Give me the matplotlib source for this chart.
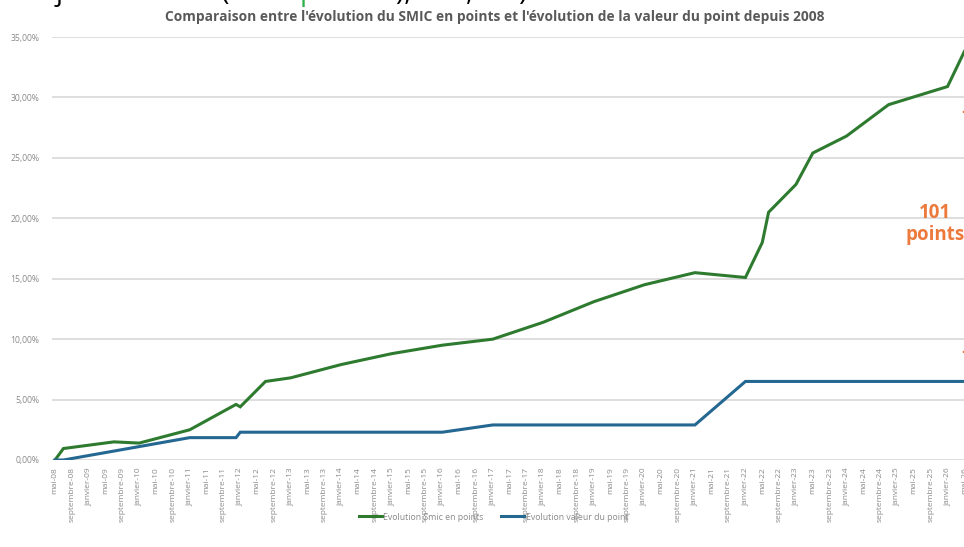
import matplotlib
matplotlib.use("Agg")
import matplotlib.pyplot as plt

# months counted from mai 2008 (0) ; values in %
smic_mois = [0, 2, 14, 20, 32, 43, 44, 50, 56, 68, 80, 92, 104, 116, 128, 140,
             152, 164, 168, 169.5, 176, 180, 188, 198, 212, 216]
smic_vals = [0, 0.95, 1.5, 1.4, 2.5, 4.6, 4.4, 6.5, 6.8, 7.9, 8.8, 9.5, 10.0,
             11.4, 13.1, 14.5, 15.5, 15.1, 18.0, 20.5, 22.8, 25.4, 26.8, 29.4,
             30.9, 33.8]

point_mois = [0, 2, 32, 43, 44, 92, 104, 152, 164, 216]
point_vals = [0, 0, 1.85, 1.85, 2.3, 2.3, 2.9, 2.9, 6.5, 6.5]

noms_mois = ["mai", "septembre", "janvier"]
annee_debut = 2008
nb_labels = 55

titre = ("Comparaison entre l'évolution du SMIC en points et l'évolution "
         "de la valeur du point depuis 2008")

VERT = "#2e7b30"
BLEU = "#246892"
GRIS = "#8a8a8a"
ORANGE = "#ec7a3c"


def main():
    plt.rcParams["font.family"] = ["Open Sans", "DejaVu Sans"]
    W, H = 964, 547
    fig = plt.figure(figsize=(W / 100, H / 100), dpi=100)

    # axes: m=0 at x=55px, 4.21 px / month ; 0% at y=460, 35% at y=37
    ppm = 4.21
    x0, x1 = -0.8, 230
    left = 55 + x0 * ppm
    right = 55 + x1 * ppm
    ax = fig.add_axes([left / W, 1 - 460 / H, (right - left) / W, 423 / H])

    ax.plot(smic_mois, smic_vals, color=VERT, lw=2.2, label="Evolution Smic en points",
            solid_joinstyle="miter")
    ax.plot(point_mois, point_vals, color=BLEU, lw=2.2, label="Evolution valeur du point",
            solid_joinstyle="miter")

    ax.set_xlim(x0, x1)
    ax.set_ylim(0, 35)
    ax.set_yticks(range(0, 40, 5))
    ax.set_yticklabels([f"{v},00%" for v in range(0, 40, 5)])
    ax.grid(axis="y", color="#dedede", lw=1.4)
    ax.set_axisbelow(True)
    for s in ax.spines.values():
        s.set_visible(False)

    labels = []
    for i in range(nb_labels):
        m = 4 * i
        annee = annee_debut + (4 + m) // 12
        labels.append(f"{noms_mois[i % 3]}-{annee % 100:02d}")
    ax.set_xticks([4 * i for i in range(nb_labels)])
    ax.set_xticklabels(labels, rotation=90, fontsize=6.0, color=GRIS)
    ax.tick_params(axis="x", length=0, pad=5)
    ax.tick_params(axis="y", length=0, pad=9, labelsize=6.2, labelcolor=GRIS)

    fig.text(495 / W, 1 - 17 / H, titre, ha="center", va="center",
             fontsize=9.9, fontweight="bold", color="#595959")

    fig.legend(loc="center", bbox_to_anchor=(0.512, 1 - 517 / H), ncol=2,
               frameon=False, fontsize=6.3, labelcolor=GRIS, handlelength=2.6,
               handletextpad=0.2, columnspacing=2.0)

    # orange annotations (cut at the right edge)
    fig.text(935 / W, 1 - 224 / H, "101\npoints", ha="center", va="center",
             fontsize=13.5, fontweight="bold", color=ORANGE, linespacing=1.1)
    fig.text(961 / W, 1 - 113 / H, "+", ha="left", va="center",
             fontsize=13, fontweight="bold", color=ORANGE)
    fig.text(961 / W, 1 - 353 / H, "+", ha="left", va="center",
             fontsize=13, fontweight="bold", color=ORANGE)

    # header line of the page, cut off at the top: only descenders show
    y_base = 1.0
    fig.text(300 / W, y_base, "Smic en janvier 2026 (+101 ", ha="right",
             va="baseline", fontsize=20, color="black")
    fig.text(300 / W, y_base, "points", ha="left", va="baseline",
             fontsize=20, color="#2fb24c")
    fig.text(396 / W, y_base, "), +33,8 %)", ha="left", va="baseline",
             fontsize=20, color="black")

    fig.savefig("out.png", dpi=100)
    plt.close(fig)


if __name__ == "__main__":
    main()
